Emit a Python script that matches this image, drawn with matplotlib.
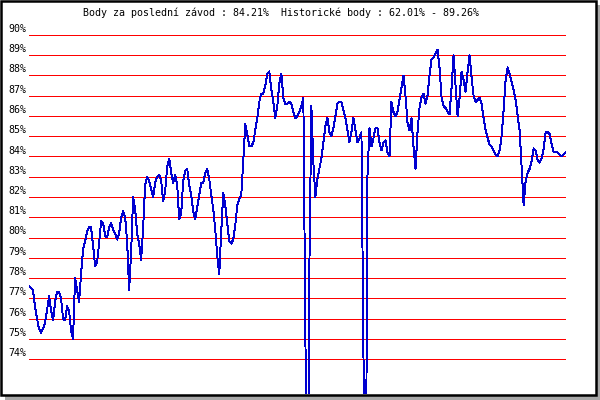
import numpy as np
import matplotlib
matplotlib.use('Agg')
import matplotlib.pyplot as plt
from matplotlib.patches import Rectangle
from matplotlib.transforms import blended_transform_factory

# points per race (left to right)
body = [77.6, 77.5, 77.4, 76.6, 76.0, 75.5, 75.3, 75.5, 75.8, 76.4,
        77.1, 76.4, 75.9, 76.8, 77.3, 77.3, 77.0, 76.0, 75.9, 76.6,
        76.4, 75.4, 75.0, 78.0, 77.4, 76.8, 78.2, 79.4, 79.8, 80.3,
        80.5, 80.5, 79.6, 78.6, 78.8, 79.7, 80.8, 80.7, 80.1, 80.0,
        80.5, 80.7, 80.4, 80.2, 79.9, 80.2, 81.0, 81.3, 81.0, 79.8,
        77.4, 79.3, 82.0, 81.4, 80.2, 79.7, 78.9, 80.5, 82.6, 83.0,
        82.8, 82.4, 82.0, 82.7, 83.0, 83.1, 82.8, 81.8, 82.3, 83.5,
        83.9, 83.2, 82.7, 83.1, 82.6, 80.9, 81.2, 82.8, 83.3, 83.4,
        82.6, 82.1, 81.3, 80.9, 81.5, 82.1, 82.7, 82.7, 83.2, 83.4,
        82.9, 82.1, 81.4, 80.4, 79.1, 78.2, 80.3, 82.2, 81.6, 80.7,
        79.8, 79.7, 79.9, 80.6, 81.6, 81.9, 82.1, 83.8, 85.6, 85.1,
        84.5, 84.5, 84.7, 85.3, 85.9, 86.7, 87.1, 87.1, 87.5, 88.1,
        88.2, 87.3, 86.7, 85.9, 86.5, 87.6, 88.1, 86.9, 86.6, 86.6,
        86.7, 86.6, 86.2, 85.9, 86.0, 86.2, 86.5, 86.9, 75.5, 63.5,
        78.5, 86.5, 83.7, 82.0, 82.9, 83.4, 83.9, 84.7, 85.5, 85.9,
        85.2, 85.0, 85.4, 86.0, 86.6, 86.7, 86.7, 86.3, 85.9, 85.3,
        84.7, 85.2, 85.9, 85.3, 84.7, 84.9, 85.2, 74.8, 62.01, 83.0,
        85.4, 84.5, 84.9, 85.4, 85.4, 84.7, 84.3, 84.7, 84.8, 84.2,
        84.0, 86.7, 86.2, 86.0, 86.2, 86.8, 87.4, 88.0, 87.0, 85.7,
        85.3, 85.9, 84.5, 83.4, 85.2, 86.4, 86.9, 87.1, 86.6, 87.0,
        88.0, 88.8, 88.9, 89.1, 89.26, 88.4, 86.9, 86.5, 86.4, 86.2,
        86.1, 87.4, 89.0, 87.5, 86.0, 86.9, 88.2, 87.8, 87.2, 88.2,
        89.0, 87.9, 87.0, 86.7, 86.8, 86.9, 86.6, 85.9, 85.3, 84.9,
        84.6, 84.5, 84.3, 84.1, 84.0, 84.3, 85.0, 86.3, 87.8, 88.4,
        88.1, 87.7, 87.3, 86.8, 86.0, 85.3, 83.5, 81.6, 82.8, 83.2,
        83.4, 83.8, 84.4, 84.3, 83.8, 83.7, 83.9, 84.4, 85.2, 85.2,
        85.1, 84.6, 84.2, 84.2, 84.2, 84.1, 84.0, 84.1, 84.21]

levels = list(range(74, 91))
title = "Body za poslední závod : 84.21%  Historické body : 62.01% - 89.26%"

W, H = 600, 400
fig = plt.figure(figsize=(6, 4), dpi=100)
fig.patch.set_facecolor('white')

def px(x, y):
    # pixel coords (top-left origin) -> figure fraction
    return x / W, 1 - y / H

# gray shadow and black frame
x0, y0 = px(5, 400)
fig.add_artist(Rectangle((x0, y0), 595 / W, 395 / H, transform=fig.transFigure,
                         facecolor='#a8a8a8', edgecolor='none', zorder=-3))
x0, y0 = px(1.3, 394.8)
fig.add_artist(Rectangle((x0, y0), (596 - 1.3) / W, (394.8 - 0.8) / H,
                         transform=fig.transFigure, facecolor='white',
                         edgecolor='black', linewidth=1.8, zorder=-2))

# plot area: 90% at y=35px, 20.25px per percent
top_px, bot_px = 30, 394
left, bottom = px(29, bot_px)
ax = fig.add_axes([left, bottom, 537 / W, (bot_px - top_px) / H])
ax.patch.set_alpha(0)
for s in ax.spines.values():
    s.set_visible(False)
ax.set_xticks([])
ax.set_yticks([])

ppp = 20.25
ax.set_ylim(90 - (bot_px - 35) / ppp, 90 + (35 - top_px) / ppp)
n = len(body)
ax.set_xlim(0, (n - 1) * 537 / 536.7)

for lv in levels:
    ax.axhline(lv, color='#ff0000', linewidth=0.7, antialiased=False, zorder=1)

tr = blended_transform_factory(ax.transAxes, ax.transData)
for lv in levels:
    ax.text(-0.0045, lv + 6 / ppp, f"{lv}%", transform=tr, ha='right', va='center',
            family='DejaVu Sans Mono', fontsize=7.2, color='black')

ax.plot(np.arange(n), body, color='#0000d0', linewidth=0.7, antialiased=False, zorder=2)

tx, ty = px(83, 13)
fig.text(tx, ty, title, ha='left', va='center', family='DejaVu Sans Mono',
         fontsize=7.2, color='black')

fig.savefig('out.png', dpi=100)
